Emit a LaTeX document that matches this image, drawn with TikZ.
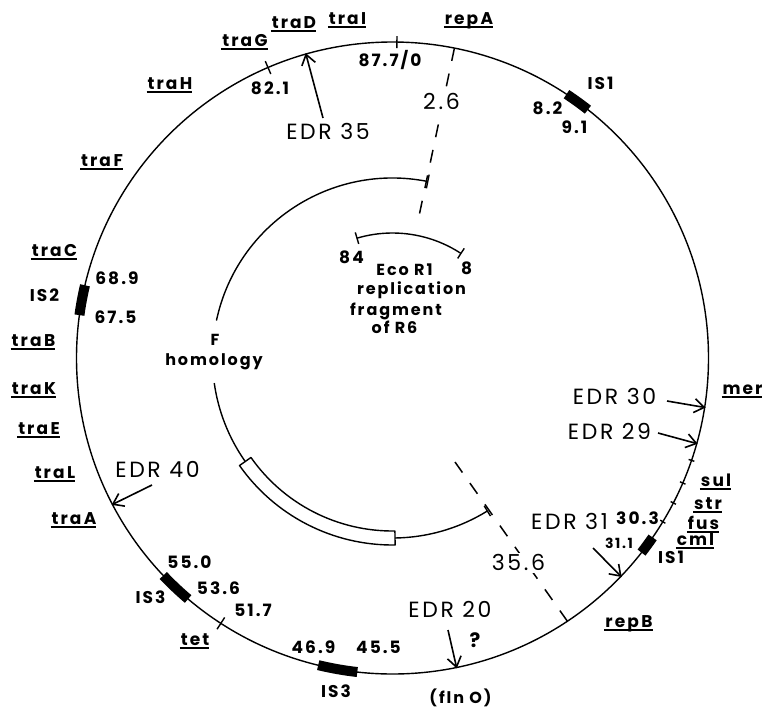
\documentclass[tikz,border=0pt]{standalone}
\usepackage{fontspec}
\usetikzlibrary{arrows.meta,calc}
\newfontfamily\pf[LetterSpace=12]{Poppins}
\newcommand{\gul}[1]{\setbox0=\hbox{#1}\rlap{\kern-1pt\rule[-4pt]{\dimexpr\wd0+1pt\relax}{1.6pt}}\box0}
\newcommand{\gs}{\kern2.5pt}
\tikzset{
  ring/.style={line width=1.4pt},
  isblk/.style={line width=10pt},
  edr/.style={line width=1.6pt,-{Straight Barb[length=10pt,width=14pt,line width=1.6pt]}},
  dsh/.style={line width=1.5pt,dash pattern=on 13pt off 13pt},
  gene/.style={inner sep=0pt,font=\pf\bfseries\fontsize{17}{17}\selectfont,text height=12pt,text depth=0pt},
  num/.style={inner sep=0pt,font=\pf\bfseries\fontsize{17}{17}\selectfont,text height=12pt,text depth=0pt},
  big/.style={inner sep=0pt,font=\pf\fontsize{22}{22}\selectfont,text height=15.5pt,text depth=0pt},
  inn/.style={inner sep=0pt,font=\pf\bfseries\fontsize{16}{16}\selectfont,text height=11.5pt,text depth=0pt},
}
\begin{document}
\begin{tikzpicture}[x=1pt,y=-1pt,line join=round]
\useasboundingbox (0,0) rectangle (762,712);
\coordinate (C) at (392.5,358);
% outer circle
\draw[ring] (C) circle[radius=316];
% IS blocks
\foreach \a/\b in {-56.6/-51.8, 187.8/193.3, 130.3/136.5, 96.4/103.6, 34.6/38.0}
  \draw[isblk] ($(C)+(\a:316)$) arc[start angle=\a, end angle=\b, radius=316];
% ticks on outer circle
\foreach \a/\ri/\ro in {-89.2/310/322, -113.2/309/323, 122.9/309/323, 18.9/313/319, 23.3/313/319, 27.3/313/319, 31.2/313/319}
  \draw[ring] ($(C)+(\a:\ri)$) -- ($(C)+(\a:\ro)$);
% inner F homology arc
\draw[ring] ($(C)+(-78.7:180)$) arc[start angle=-78.7, end angle=-168, radius=180];
\draw[ring] ($(C)+(172:180)$) arc[start angle=172, end angle=144.9, radius=180];
\draw[ring,fill=white] ($(C)+(144.9:173)$) arc[start angle=144.9, end angle=89.2, radius=173]
  -- ($(C)+(89.2:187)$) arc[start angle=89.2, end angle=144.9, radius=187] -- cycle;
\draw[ring] ($(C)+(89.2:180)$) arc[start angle=89.2, end angle=58.2, radius=180];
\draw[ring] ($(C)+(-78.7:173)$) -- ($(C)+(-78.7:187)$);
\draw[ring] ($(C)+(58.2:174)$) -- ($(C)+(58.2:186)$);
% EcoR1 fragment arc
\draw[ring] ($(C)+(-106.5:125)$) arc[start angle=-106.5, end angle=-56.8, radius=125];
\draw[ring] ($(C)+(-106.5:119)$) -- ($(C)+(-106.5:131)$);
\draw[ring] ($(C)+(-56.8:119)$) -- ($(C)+(-56.8:131)$);
% dashed lines
\coordinate (dA1) at ($(C)+(-78.7:316)$);
\coordinate (dA2) at ($(C)+(-79.5:136)$);
\coordinate (dB1) at ($(C)+(56.4:316)$);
\coordinate (dB2) at (455,462);
\draw[dsh] (dA1) -- (dA2);
\draw[dsh] (dB1) -- (dB2);
\node[big,fill=white,inner sep=2pt] (n26) at (441.5,102) {2.6};
\node[big,fill=white,inner sep=2pt] (n356) at (518.5,563) {35.6};
% gene labels
\node[gene] (traH) at (170,83) {\gul{tra\gs H}};
\node[gene] (traG) at (245,40) {\gul{tra\gs G}};
\node[gene] (traD) at (294,22) {\gul{traD}};
\node[gene] (traI) at (347.5,18) {\gul{tra\gs I}};
\node[gene] (repA) at (469,18) {\gul{rep\gs A}};
\node[gene] (traF) at (102,160) {\gul{tra\gs F}};
\node[gene] (traC) at (54.5,250) {\gul{tra\gs C}};
\node[gene] (traB) at (33.5,340) {\gul{tra\gs B}};
\node[gene] (traK) at (34,388) {\gul{tra\gs K}};
\node[gene] (traE) at (39,428) {\gul{tra\gs E}};
\node[gene] (traL) at (55,472) {\gul{tra\gs L}};
\node[gene] (traA) at (74,518) {\gul{tra\gs A}};
\node[gene] (tet) at (195,639) {\gul{tet}};
\node[gene] (repB) at (629,621) {\gul{rep\gs B}};
\node[gene] (mer) at (742.5,388) {\gul{mer}};
\node[gene] (sul) at (716,480) {\gul{sul}};
\node[gene] (str) at (708,503) {\gul{str}};
\node[gene] (fus) at (703.5,523) {\gul{fus}};
\node[gene] (cml) at (695.5,539) {\gul{cml}};
% IS labels
\node[gene] (is1a) at (600.5,83) {IS1};
\node[gene] (is2) at (44.5,295) {IS2};
\node[gene] (is3a) at (150.5,597) {IS3};
\node[gene] (is3b) at (336,691) {IS3};
\node[gene] (is1b) at (671,557) {IS1};
% numbers
\node[num] (m877) at (390,60) {87.7/0};
\node[num] (m821) at (270,88) {82.1};
\node[num] (m82) at (547.5,108) {8.2};
\node[num] (m91) at (574.5,127) {9.1};
\node[num] (m689) at (117,278) {68.9};
\node[num] (m675) at (115.5,317) {67.5};
\node[num] (m550) at (189.5,562) {55.0};
\node[num] (m536) at (218.5,588) {53.6};
\node[num] (m517) at (253,610) {51.7};
\node[num] (m469) at (313.5,647) {46.9};
\node[num] (m455) at (378.5,647) {45.5};
\node[num] (m303) at (637.5,518) {30.3};
\node[num,font=\pf\bfseries\fontsize{14}{14}\selectfont,text height=10pt] (m311) at (619,543) {31.1};
\node[num] (m84) at (351.5,257) {84};
\node[num] (m8) at (466.5,268) {8};
% inner texts
\node[inn] (eco) at (404.5,270) {Eco R1};
\node[inn] (repl) at (411.5,289) {replication};
\node[inn] (frag) at (396,310) {fragment};
\node[inn] (ofr6) at (394.5,328) {of R6};
\node[inn] (fF) at (215,340) {F};
\node[inn] (hom) at (214,360) {homology};
\node[gene,font=\pf\bfseries\fontsize{16}{16}\selectfont,text height=11pt] (fln) at (460.5,698) {(fln O)};
\node[gene,font=\pf\bfseries\fontsize{20}{20}\selectfont,text height=14pt] (q) at (475,640) {?};
% EDR labels and arrows
\node[big] (e35) at (328,132) {EDR 35};
\node[big] (e40) at (157.5,470) {EDR 40};
\node[big] (e20) at (450,610) {EDR 20};
\node[big] (e30) at (614.5,397) {EDR 30};
\node[big] (e29) at (609.5,432) {EDR 29};
\node[big] (e31) at (569.5,522) {EDR 31};
\coordinate (t35) at (323,118);  \coordinate (p35) at ($(C)+(-105.9:317)$);
\coordinate (t40) at (152,485);  \coordinate (p40) at ($(C)+(152.4:317)$);
\coordinate (t20) at (448,630);  \coordinate (p20) at ($(C)+(78.3:317)$);
\coordinate (t30) at (667,401);  \coordinate (p30) at ($(C)+(9.0:317)$);
\coordinate (t29) at (658,433);  \coordinate (p29) at ($(C)+(15.7:317)$);
\coordinate (t31) at (593,548);  \coordinate (p31) at ($(C)+(43.7:317)$);
\draw[edr] (t35) -- (p35);
\draw[edr] (t40) -- (p40);
\draw[edr] (t20) -- (p20);
\draw[edr] (t30) -- (p30);
\draw[edr] (t29) -- (p29);
\draw[edr] (t31) -- (p31);
\end{tikzpicture}
\end{document}
